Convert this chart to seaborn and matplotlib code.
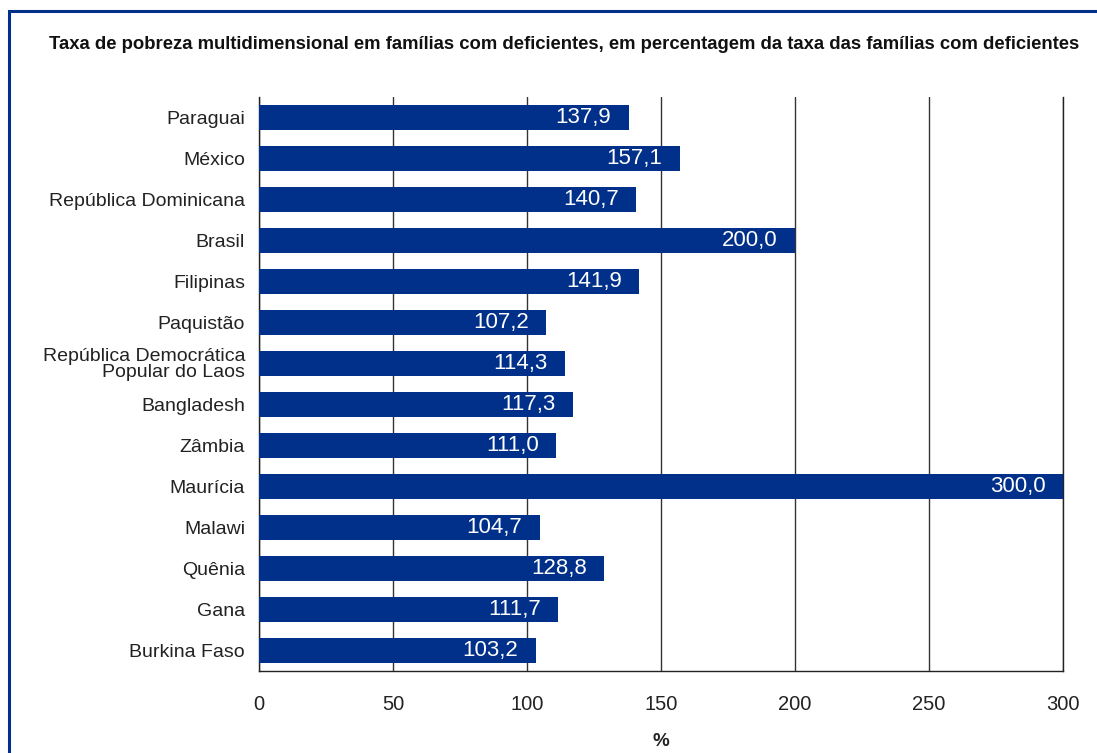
import matplotlib
matplotlib.use('Agg')
import matplotlib.pyplot as plt
import matplotlib.patches as mpatches
import seaborn as sns
import pandas as pd

countries = ['Paraguai', 'México', 'República Dominicana', 'Brasil', 'Filipinas',
             'Paquistão', 'República Democrática\nPopular do Laos', 'Bangladesh',
             'Zâmbia', 'Maurícia', 'Malawi', 'Quênia', 'Gana', 'Burkina Faso']
values = [137.9, 157.1, 140.7, 200.0, 141.9, 107.2, 114.3, 117.3,
          111.0, 300.0, 104.7, 128.8, 111.7, 103.2]
xticks = [0, 50, 100, 150, 200, 250, 300]

BLUE = '#00308a'
TXT = '#222222'

df = pd.DataFrame({'country': countries, 'value': values})

sns.set_style('white')
plt.rcParams['font.family'] = ['Liberation Sans', 'DejaVu Sans']

fig = plt.figure(figsize=(10.97, 7.53), dpi=100)
ax = fig.add_axes([0.2361, 0.1089, 0.7329, 0.7623])

sns.barplot(data=df, x='value', y='country', orient='h', color=BLUE,
            saturation=1, width=0.63, linewidth=0, ax=ax, zorder=3)

for i, v in enumerate(values):
    ax.text(v - 6.5, i, f'{v:.1f}'.replace('.', ','), color='white',
            ha='right', va='center', fontsize=16, zorder=4)

ax.set_xlim(0, 300)
ax.set_ylim(13.5, -0.5)
ax.set_xticks(xticks)
ax.set_xticklabels([str(t) for t in xticks], fontsize=14.5, color=TXT)
ax.tick_params(axis='x', length=7, width=1, color=TXT, pad=10)
ax.tick_params(axis='y', length=0, pad=10, labelsize=14, labelcolor=TXT)
for lbl in ax.get_yticklabels():
    lbl.set_linespacing(0.9)
ax.xaxis.grid(True, color='#333333', lw=1, zorder=0)
ax.set_axisbelow(True)
ax.spines['top'].set_visible(False)
for s in ['left', 'bottom', 'right']:
    ax.spines[s].set_color(TXT)
    ax.spines[s].set_linewidth(1)
ax.set_ylabel('')
ax.set_xlabel('%', fontsize=13.5, fontweight='bold', labelpad=14, color=TXT)

title = fig.text(49 / 1097, 0.941,
                 'Taxa de pobreza multidimensional em famílias com deficientes, em percentagem da taxa das famílias com deficientes',
                 ha='left', va='center', fontsize=13, fontweight='bold', color='#111111')
# fit title to the width it takes in the reference
fig.canvas.draw()
w = title.get_window_extent().width
title.set_fontsize(13 * 1029 / w)

# blue frame
frame = mpatches.Rectangle((9 / 1097, -0.05), 1.1, 1 - 11.5 / 753 + 0.05,
                           transform=fig.transFigure, fill=False,
                           edgecolor=BLUE, lw=2.2)
fig.patches.append(frame)

fig.savefig('out.png', dpi=100)
